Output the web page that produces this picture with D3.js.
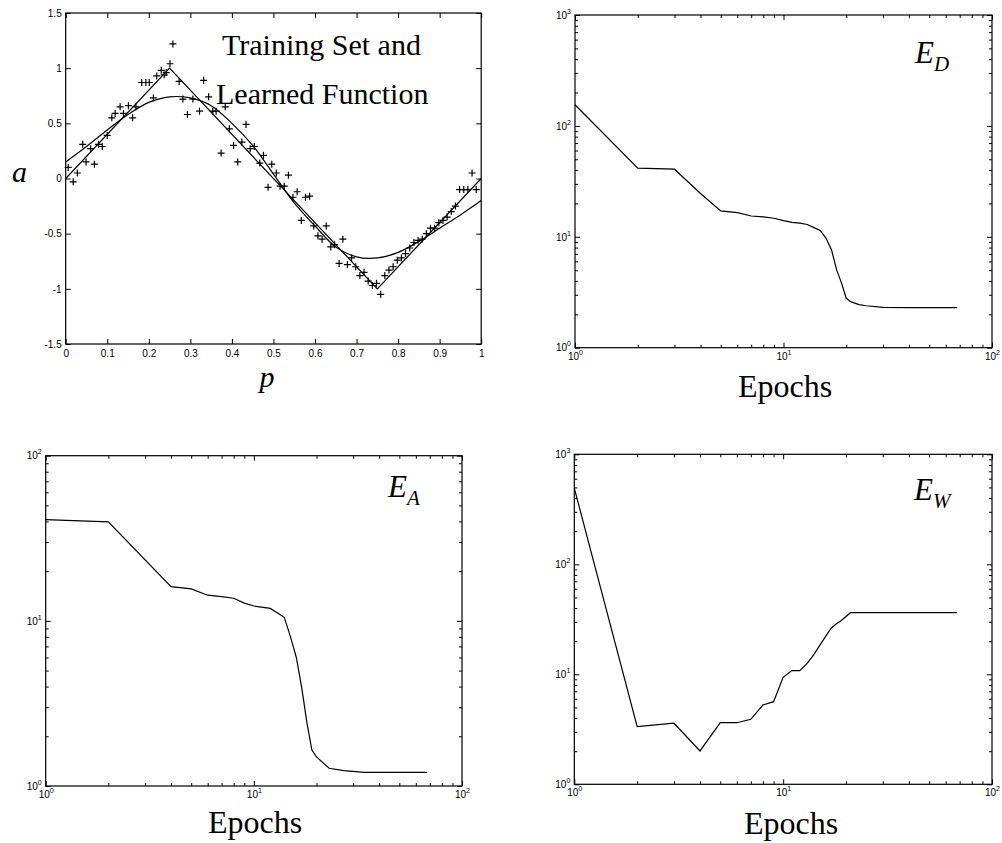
<!DOCTYPE html>
<html><head><meta charset="utf-8">
<script src="https://cdn.jsdelivr.net/npm/d3@7"></script>
<style>body{margin:0;background:#fff}svg{display:block}</style>
</head><body>
<svg id="fig" width="1002" height="843"></svg>
<script>
// ---- training set (p, a) ----
const trainP = [0.006,0.018,0.028,0.041,0.049,0.060,0.069,0.079,0.088,0.100,0.111,0.119,0.131,0.139,0.151,0.161,0.169,0.183,0.193,0.201,0.211,0.219,0.230,0.237,0.242,0.251,0.258,0.273,0.282,0.293,0.306,0.322,0.332,0.344,0.354,0.362,0.374,0.384,0.394,0.404,0.414,0.424,0.434,0.444,0.454,0.467,0.476,0.487,0.496,0.507,0.516,0.526,0.536,0.547,0.557,0.567,0.577,0.587,0.597,0.607,0.617,0.627,0.638,0.647,0.658,0.667,0.678,0.688,0.698,0.708,0.718,0.728,0.738,0.748,0.758,0.768,0.778,0.788,0.798,0.808,0.818,0.828,0.838,0.848,0.858,0.868,0.878,0.888,0.898,0.908,0.918,0.928,0.938,0.948,0.958,0.968,0.978,0.988];
const trainA = [0.10,-0.03,0.05,0.31,0.15,0.27,0.13,0.31,0.29,0.39,0.55,0.59,0.65,0.59,0.66,0.55,0.65,0.87,0.87,0.87,0.73,0.93,0.98,0.94,0.96,1.04,1.22,0.88,0.72,0.58,0.72,0.61,0.89,0.74,0.61,0.61,0.23,0.65,0.45,0.30,0.15,0.33,0.49,0.27,0.29,0.14,0.21,-0.08,0.13,0.05,-0.07,-0.07,0.03,-0.17,-0.12,-0.38,-0.17,-0.16,-0.43,-0.52,-0.55,-0.43,-0.62,-0.60,-0.77,-0.55,-0.78,-0.72,-0.80,-0.88,-0.85,-0.93,-0.97,-0.95,-1.05,-0.88,-0.83,-0.80,-0.74,-0.72,-0.68,-0.63,-0.58,-0.56,-0.55,-0.50,-0.45,-0.45,-0.40,-0.38,-0.35,-0.30,-0.25,-0.10,-0.10,-0.10,0.05,-0.10];

// ---- target function (piecewise linear) ----
const targetP = [0, 0.25, 0.75, 1];
const targetA = [0, 1, -1, 0];

// ---- learned network response ----
const fitP = [0,0.05,0.10,0.15,0.20,0.25,0.30,0.35,0.40,0.45,0.50,0.55,0.60,0.65,0.70,0.75,0.80,0.85,0.90,0.95,1.00];
const fitA = [0.15,0.29,0.44,0.58,0.69,0.74,0.73,0.66,0.50,0.30,0.04,-0.22,-0.43,-0.62,-0.71,-0.72,-0.67,-0.57,-0.45,-0.33,-0.20];

// ---- axis ticks for the training-set panel ----
const pTicks = [0,0.1,0.2,0.3,0.4,0.5,0.6,0.7,0.8,0.9,1];
const pTickLabels = ["0","0.1","0.2","0.3","0.4","0.5","0.6","0.7","0.8","0.9","1"];
const aTicks = [-1.5,-1,-0.5,0,0.5,1,1.5];
const aTickLabels = ["-1.5","-1","-0.5","0","0.5","1","1.5"];

// ---- error histories ----
const epochsED = [1,2,3,4,5,6,7,8,9,10,11,12,13,14,15,16,17,18,19,20,21,23,25,30,40,68];
const valuesED = [155,41.6,40.7,24.6,17.1,16.5,15.4,15.1,14.7,14.0,13.5,13.3,12.9,12.1,11.4,9.7,7.6,5.0,3.8,2.79,2.6,2.45,2.39,2.31,2.3,2.3];

const epochsEA = [1,2,4,5,6,7,8,9,10,12,14,15,16,17,18,19,20,23,27,34,68];
const valuesEA = [41,39.8,16.1,15.6,14.3,14.0,13.7,12.8,12.3,11.9,10.5,8.0,6.0,3.9,2.4,1.65,1.5,1.28,1.24,1.21,1.21];

const epochsEW = [1,2,3,4,5,6,7,8,9,10,11,12,13,14,15,16,17,18,19,20,21,68];
const valuesEW = [492,3.34,3.59,2.01,3.63,3.63,3.9,5.26,5.64,9.4,10.8,10.8,12.5,15.0,18.4,22.2,26.4,28.8,30.8,33.5,36.3,36.3];

const svg = d3.select("#fig");
const SERIF = "'Liberation Serif','Times New Roman',serif";
const SANS = "'Liberation Sans',Arial,Helvetica,sans-serif";

function frame(box) {
  svg.append("rect")
    .attr("x", box.x0).attr("y", box.y1)
    .attr("width", box.x1 - box.x0).attr("height", box.y0 - box.y1)
    .attr("fill", "none").attr("stroke", "#000").attr("stroke-width", 1.2);
}

function styleAxis(g) {
  g.select(".domain").remove();
  g.selectAll(".tick line").attr("stroke", "#000").attr("stroke-width", 1);
  g.selectAll(".tick text").attr("fill", "#000").attr("font-family", SANS).attr("font-size", 10);
}

// ---------- training set panel ----------
(function () {
  const box = {x0: 65.7, x1: 481.2, y0: 344, y1: 13};
  const x = d3.scaleLinear().domain([0, 1]).range([box.x0, box.x1]);
  const y = d3.scaleLinear().domain([-1.5, 1.5]).range([box.y0, box.y1]);

  const gb = svg.append("g").attr("transform", `translate(0,${box.y0})`)
    .call(d3.axisBottom(x).tickValues(pTicks).tickSize(-5).tickPadding(6)
      .tickFormat((d, i) => pTickLabels[i]));
  styleAxis(gb);
  const gt = svg.append("g").attr("transform", `translate(0,${box.y1})`)
    .call(d3.axisTop(x).tickValues(pTicks).tickSize(-5).tickFormat(""));
  styleAxis(gt);
  const gl = svg.append("g").attr("transform", `translate(${box.x0},0)`)
    .call(d3.axisLeft(y).tickValues(aTicks).tickSize(-5).tickPadding(4)
      .tickFormat((d, i) => aTickLabels[i]));
  styleAxis(gl);
  const gr = svg.append("g").attr("transform", `translate(${box.x1},0)`)
    .call(d3.axisRight(y).tickValues(aTicks).tickSize(-5).tickFormat(""));
  styleAxis(gr);
  frame(box);

  const line = d3.line().x(d => x(d[0])).y(d => y(d[1]));
  svg.append("path").datum(d3.zip(targetP, targetA))
    .attr("d", line).attr("fill", "none").attr("stroke", "#000").attr("stroke-width", 1.2);
  svg.append("path").datum(d3.zip(fitP, fitA))
    .attr("d", line.curve(d3.curveCatmullRom)).attr("fill", "none")
    .attr("stroke", "#000").attr("stroke-width", 1.2);

  svg.append("g").selectAll("path").data(d3.zip(trainP, trainA)).join("path")
    .attr("transform", d => `translate(${x(d[0])},${y(d[1])})`)
    .attr("d", "M-3.5,0H3.5M0,-3.5V3.5")
    .attr("stroke", "#000").attr("stroke-width", 1.2).attr("fill", "none");

  svg.append("text").attr("x", 222).attr("y", 55)
    .attr("font-family", SERIF).attr("font-size", 30).text("Training Set and");
  svg.append("text").attr("x", 216).attr("y", 104)
    .attr("font-family", SERIF).attr("font-size", 30).text("Learned Function");
  svg.append("text").attr("x", 12).attr("y", 182)
    .attr("font-family", SERIF).attr("font-style", "italic").attr("font-size", 30).text("a");
  svg.append("text").attr("x", 267).attr("y", 387).attr("text-anchor", "middle")
    .attr("font-family", SERIF).attr("font-style", "italic").attr("font-size", 30).text("p");
})();

// ---------- log-log error panels ----------
function decadeTicks(lo, hi) {
  const major = [], minor = [];
  for (let e = Math.log10(lo); e <= Math.log10(hi) + 1e-9; e++) {
    major.push(Math.pow(10, e));
    if (e < Math.log10(hi) - 1e-9) for (let k = 2; k <= 9; k++) minor.push(k * Math.pow(10, e));
  }
  return {major, minor};
}

function powLabels(g, anchor) {
  g.selectAll(".tick text").each(function (d) {
    const t = d3.select(this);
    t.text(null).attr("text-anchor", anchor);
    t.append("tspan").text("10");
    t.append("tspan").attr("dy", -5).attr("font-size", 7).text(Math.round(Math.log10(d)));
  });
}

function logPanel(box, yDomain, epochs, values, letter, sub, labelPos, xlabelPos) {
  const x = d3.scaleLog().domain([1, 100]).range([box.x0, box.x1]);
  const y = d3.scaleLog().domain(yDomain).range([box.y0, box.y1]);
  const xt = decadeTicks(1, 100), yt = decadeTicks(yDomain[0], yDomain[1]);

  const gb = svg.append("g").attr("transform", `translate(0,${box.y0})`)
    .call(d3.axisBottom(x).tickValues(xt.major).tickSize(-5).tickPadding(5).tickFormat(""));
  styleAxis(gb); powLabels(gb, "middle");
  const gbm = svg.append("g").attr("transform", `translate(0,${box.y0})`)
    .call(d3.axisBottom(x).tickValues(xt.minor).tickSize(-3).tickFormat(""));
  styleAxis(gbm);
  const gt = svg.append("g").attr("transform", `translate(0,${box.y1})`)
    .call(d3.axisTop(x).tickValues(xt.major).tickSize(-5).tickFormat(""));
  styleAxis(gt);
  const gtm = svg.append("g").attr("transform", `translate(0,${box.y1})`)
    .call(d3.axisTop(x).tickValues(xt.minor).tickSize(-3).tickFormat(""));
  styleAxis(gtm);

  const gl = svg.append("g").attr("transform", `translate(${box.x0},0)`)
    .call(d3.axisLeft(y).tickValues(yt.major).tickSize(-5).tickPadding(4).tickFormat(""));
  styleAxis(gl); powLabels(gl, "end");
  const glm = svg.append("g").attr("transform", `translate(${box.x0},0)`)
    .call(d3.axisLeft(y).tickValues(yt.minor).tickSize(-3).tickFormat(""));
  styleAxis(glm);
  const gr = svg.append("g").attr("transform", `translate(${box.x1},0)`)
    .call(d3.axisRight(y).tickValues(yt.major).tickSize(-5).tickFormat(""));
  styleAxis(gr);
  const grm = svg.append("g").attr("transform", `translate(${box.x1},0)`)
    .call(d3.axisRight(y).tickValues(yt.minor).tickSize(-3).tickFormat(""));
  styleAxis(grm);
  frame(box);

  svg.append("path").datum(d3.zip(epochs, values))
    .attr("d", d3.line().x(d => x(d[0])).y(d => y(d[1])))
    .attr("fill", "none").attr("stroke", "#000").attr("stroke-width", 1.2);

  const t = svg.append("text").attr("x", labelPos[0]).attr("y", labelPos[1])
    .attr("font-family", SERIF).attr("font-style", "italic").attr("font-size", 31);
  t.append("tspan").text(letter);
  t.append("tspan").attr("font-size", 21).attr("dy", 8).text(sub);

  svg.append("text").attr("x", xlabelPos[0]).attr("y", xlabelPos[1]).attr("text-anchor", "middle")
    .attr("font-family", SERIF).attr("font-size", 32).text("Epochs");
}

logPanel({x0: 575, x1: 992, y0: 347.7, y1: 15}, [1, 1000], epochsED, valuesED, "E", "D", [915, 63], [785, 397]);
logPanel({x0: 45.7, x1: 462, y0: 786, y1: 455.7}, [1, 100], epochsEA, valuesEA, "E", "A", [388, 497], [255, 833]);
logPanel({x0: 574.3, x1: 992, y0: 784.3, y1: 454.3}, [1, 1000], epochsEW, valuesEW, "E", "W", [914, 500], [791, 834]);
</script>
</body></html>
